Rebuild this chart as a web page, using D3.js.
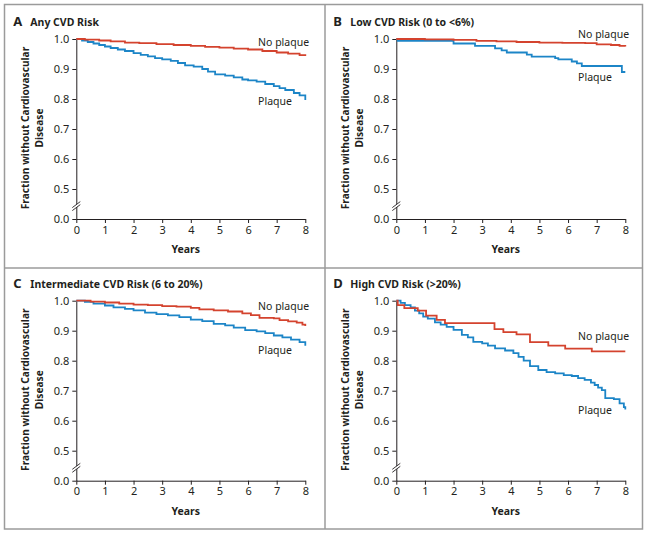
<!DOCTYPE html>
<html>
<head>
<meta charset="utf-8">
<script src="https://cdn.jsdelivr.net/npm/d3@7"></script>
<style>
  body { margin: 0; background: #fff; }
  text { font-family: "Noto Sans", sans-serif; fill: #231f20; }
</style>
</head>
<body>
<div id="chart"></div>
<script>
// axis ticks
const yearTicks = [0, 1, 2, 3, 4, 5, 6, 7, 8];
const fractionTicks = [0.4, 0.5, 0.6, 0.7, 0.8, 0.9, 1.0]; // 0.4 slot is shown as the broken "0.0"

// A: any CVD risk
const aNoPlaqueYears = [0, 0.3, 0.8, 1.2, 1.7, 2.2, 2.8, 3.4, 4.0, 4.5, 5.0, 5.5, 6.0, 6.5, 7.0, 7.4, 7.8, 8.0];
const aNoPlaqueFrac  = [1.0, 0.998, 0.995, 0.992, 0.988, 0.986, 0.983, 0.98, 0.977, 0.974, 0.971, 0.968, 0.965, 0.96, 0.955, 0.951, 0.946, 0.943];
const aPlaqueYears = [0, 0.2, 0.4, 0.6, 0.8, 1.0, 1.2, 1.45, 1.7, 2.0, 2.25, 2.5, 2.75, 3.0, 3.3, 3.55, 3.8, 4.1, 4.4, 4.6, 4.85, 5.2, 5.5, 5.8, 6.0, 6.3, 6.6, 6.9, 7.1, 7.3, 7.6, 7.8, 8.0];
const aPlaqueFrac  = [1.0, 0.995, 0.99, 0.985, 0.98, 0.975, 0.97, 0.965, 0.96, 0.953, 0.947, 0.942, 0.936, 0.932, 0.927, 0.92, 0.912, 0.908, 0.9, 0.891, 0.882, 0.878, 0.872, 0.865, 0.862, 0.858, 0.85, 0.843, 0.836, 0.83, 0.82, 0.812, 0.797];

// B: low CVD risk
const bNoPlaqueYears = [0, 1.0, 2.0, 2.8, 3.5, 4.2, 5.0, 5.8, 6.6, 7.0, 7.5, 7.8, 8.0];
const bNoPlaqueFrac  = [1.0, 0.999, 0.997, 0.994, 0.992, 0.99, 0.988, 0.987, 0.986, 0.982, 0.98, 0.977, 0.975];
const bPlaqueYears = [0, 0.05, 2.0, 2.75, 3.45, 3.68, 3.86, 4.56, 4.73, 5.55, 5.66, 6.13, 6.31, 6.48, 7.88, 8.0];
const bPlaqueFrac  = [1.0, 0.994, 0.985, 0.977, 0.969, 0.962, 0.955, 0.948, 0.941, 0.936, 0.932, 0.925, 0.919, 0.91, 0.89, 0.89];

// C: intermediate CVD risk
const cNoPlaqueYears = [0, 0.5, 1.0, 1.5, 2.0, 2.5, 3.0, 3.5, 4.0, 4.3, 4.8, 5.3, 5.8, 6.1, 6.4, 6.9, 7.1, 7.4, 7.7, 7.9, 8.0];
const cNoPlaqueFrac  = [1.0, 0.997, 0.994, 0.99, 0.987, 0.985, 0.982, 0.98, 0.976, 0.971, 0.968, 0.964, 0.958, 0.952, 0.943, 0.941, 0.935, 0.931, 0.927, 0.92, 0.916];
const cPlaqueYears = [0, 0.3, 0.6, 1.0, 1.3, 1.7, 2.0, 2.4, 2.8, 3.2, 3.6, 4.0, 4.4, 4.8, 5.2, 5.5, 5.9, 6.3, 6.6, 6.9, 7.2, 7.5, 7.8, 8.0];
const cPlaqueFrac  = [1.0, 0.996, 0.99, 0.984, 0.978, 0.973, 0.968, 0.96, 0.955, 0.951, 0.945, 0.937, 0.932, 0.923, 0.918, 0.91, 0.902, 0.898, 0.892, 0.884, 0.878, 0.87, 0.862, 0.85];

// D: high CVD risk
const dNoPlaqueYears = [0, 0.05, 0.28, 0.75, 1.04, 1.41, 1.7, 3.43, 3.74, 4.2, 4.67, 5.31, 5.9, 6.83, 8.0];
const dNoPlaqueFrac  = [1.0, 0.985, 0.975, 0.967, 0.95, 0.936, 0.925, 0.905, 0.895, 0.888, 0.862, 0.85, 0.84, 0.831, 0.831];
const dPlaqueYears = [0, 0.15, 0.3, 0.5, 0.65, 0.8, 0.94, 1.1, 1.35, 1.55, 1.76, 2.0, 2.29, 2.5, 2.69, 3.0, 3.2, 3.45, 3.8, 4.09, 4.27, 4.45, 4.67, 4.96, 5.25, 5.55, 5.85, 6.13, 6.35, 6.58, 6.8, 6.93, 7.05, 7.18, 7.3, 7.6, 7.8, 7.95, 8.0];
const dPlaqueFrac  = [1.0, 0.993, 0.985, 0.978, 0.967, 0.958, 0.947, 0.94, 0.928, 0.92, 0.913, 0.903, 0.886, 0.878, 0.863, 0.858, 0.85, 0.841, 0.834, 0.825, 0.813, 0.8, 0.782, 0.769, 0.762, 0.758, 0.752, 0.749, 0.742, 0.736, 0.727, 0.719, 0.71, 0.702, 0.675, 0.672, 0.658, 0.645, 0.637];

const red = "#d4432e";
const blue = "#1c85c7";

const width = 647, height = 535;
const plotW = 229, plotH = 180;

const zip = (xs, ys) => xs.map((t, i) => [t, ys[i]]);

const panels = [
    { letter: "A", title: "Any CVD Risk", left: 76.3, top: 39,
      noPlaque: zip(aNoPlaqueYears, aNoPlaqueFrac), plaque: zip(aPlaqueYears, aPlaqueFrac),
      noLabel: 0.977, plLabel: 0.78 },
    { letter: "B", title: "Low CVD Risk (0 to <6%)", left: 396.3, top: 39,
      noPlaque: zip(bNoPlaqueYears, bNoPlaqueFrac), plaque: zip(bPlaqueYears, bPlaqueFrac),
      noLabel: 1.003, plLabel: 0.86 },
    { letter: "C", title: "Intermediate CVD Risk (6 to 20%)", left: 76.3, top: 300.7,
      noPlaque: zip(cNoPlaqueYears, cNoPlaqueFrac), plaque: zip(cPlaqueYears, cPlaqueFrac),
      noLabel: 0.968, plLabel: 0.822 },
    { letter: "D", title: "High CVD Risk (>20%)", left: 396.3, top: 300.7,
      noPlaque: zip(dNoPlaqueYears, dNoPlaqueFrac), plaque: zip(dPlaqueYears, dPlaqueFrac),
      noLabel: 0.869, plLabel: 0.622 }
];

const svg = d3.select("#chart")
    .append("svg")
    .attr("width", width)
    .attr("height", height);

// frame and dividers
svg.append("rect")
    .attr("x", 4.5).attr("y", 4.5)
    .attr("width", 638).attr("height", 524.5)
    .attr("fill", "none")
    .attr("stroke", "#9b9b9b")
    .attr("stroke-width", 1.5);
svg.append("line")
    .attr("x1", 325).attr("x2", 325).attr("y1", 4.5).attr("y2", 529)
    .attr("stroke", "#9b9b9b").attr("stroke-width", 1.5);
svg.append("line")
    .attr("x1", 4.5).attr("x2", 642.5).attr("y1", 268).attr("y2", 268)
    .attr("stroke", "#9b9b9b").attr("stroke-width", 1.5);

panels.forEach(p => {
    const g = svg.append("g").attr("transform", `translate(${p.left},${p.top})`);

    const x = d3.scaleLinear().domain([0, 8]).range([0, plotW]);
    const y = d3.scaleLinear().domain([0.4, 1.0]).range([plotH, 0]);

    // titles
    g.append("text")
        .attr("x", -63).attr("y", -13)
        .attr("font-size", 13).attr("font-weight", "bold")
        .text(p.letter);
    g.append("text")
        .attr("x", -46).attr("y", -13)
        .attr("font-size", 10.5).attr("font-weight", "bold")
        .text(p.title);

    const xAxis = g.append("g")
        .attr("transform", `translate(0,${plotH})`)
        .call(d3.axisBottom(x).tickValues(yearTicks).tickSize(4).tickSizeOuter(0).tickPadding(3)
            .tickFormat(d3.format("d")));

    const yAxis = g.append("g")
        .call(d3.axisLeft(y).tickValues(fractionTicks).tickSize(4).tickSizeOuter(0).tickPadding(3)
            .tickFormat(d => d === 0.4 ? "0.0" : d.toFixed(1)));

    [xAxis, yAxis].forEach(a => {
        a.selectAll("path, line").attr("stroke", "#231f20");
        a.selectAll("text").attr("font-size", 11).attr("fill", "#231f20")
            .style("font-family", "'Noto Sans', sans-serif");
    });

    // axis break marks
    const by = y(0.443);
    g.append("path")
        .attr("d", `M-4,${by + 1.5}L4,${by - 4.5}L4,${by - 1.5}L-4,${by + 4.5}Z`)
        .attr("fill", "#fff");
    [0, 3].forEach(off => {
        g.append("line")
            .attr("x1", -4).attr("y1", by + 1.5 + off)
            .attr("x2", 4).attr("y2", by - 4.5 + off)
            .attr("stroke", "#231f20").attr("stroke-width", 0.9);
    });

    // axis titles
    g.append("text")
        .attr("x", x(4) - 5).attr("y", plotH + 34)
        .attr("text-anchor", "middle")
        .attr("font-size", 10.5).attr("font-weight", "bold")
        .text("Years");

    const yl = g.append("text")
        .attr("transform", `translate(-47,${plotH / 2 - 1}) rotate(-90)`)
        .attr("text-anchor", "middle")
        .attr("font-size", 10.2).attr("font-weight", "bold");
    yl.append("tspan").attr("x", 0).attr("y", 0).text("Fraction without Cardiovascular");
    yl.append("tspan").attr("x", 0).attr("y", 13.5).text("Disease");

    // survival curves
    const line = d3.line()
        .x(d => x(d[0]))
        .y(d => y(d[1]))
        .curve(d3.curveStepAfter);

    g.append("path")
        .datum(p.plaque)
        .attr("d", line)
        .attr("fill", "none")
        .attr("stroke", blue)
        .attr("stroke-width", 1.8);

    g.append("path")
        .datum(p.noPlaque)
        .attr("d", line)
        .attr("fill", "none")
        .attr("stroke", red)
        .attr("stroke-width", 1.8);

    // curve labels
    g.append("text")
        .attr("x", x(6.35)).attr("y", y(p.noLabel))
        .attr("font-size", 10.5)
        .text("No plaque");
    g.append("text")
        .attr("x", x(6.35)).attr("y", y(p.plLabel))
        .attr("font-size", 10.5)
        .text("Plaque");
});
</script>
</body>
</html>
